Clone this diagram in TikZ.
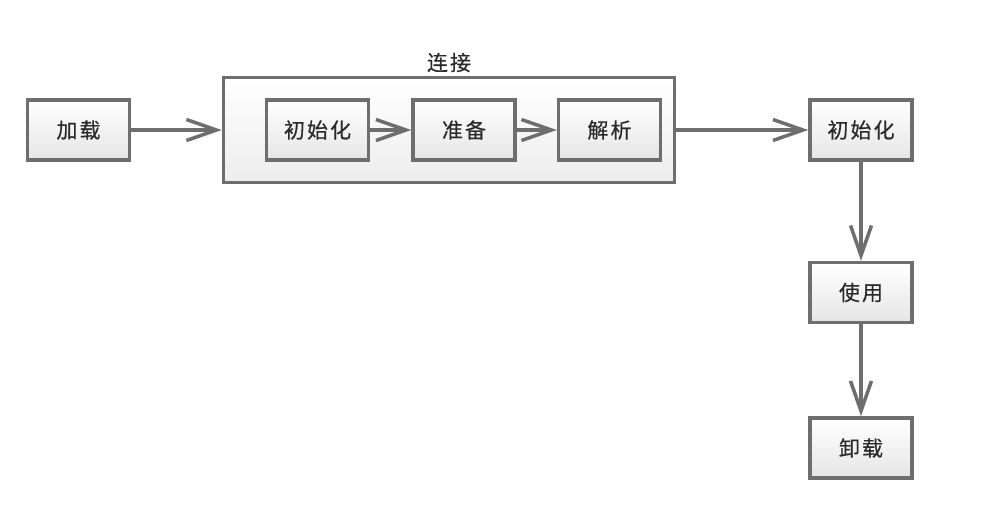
\documentclass[tikz,border=0pt]{standalone}
\usepackage{fontspec}
\newfontfamily\cjk[LetterSpace=10, FakeBold=0.4]{Noto Sans CJK SC}
\usetikzlibrary{positioning,arrows.meta,shadows}

\definecolor{edgegray}{HTML}{6E6E6E}
\definecolor{textgray}{HTML}{2A2A2A}

\begin{document}
\begin{tikzpicture}[%
    x=1pt, y=-1pt,               % pixel-like units, y grows downwards
    node distance=40pt and 40pt, % spacing between boxes
    font=\cjk\fontsize{21}{24}\selectfont,
    ]
% -------------------------------------------------
% Box and connector styles
\tikzset{
  base/.style={draw=edgegray, line width=3.5pt, rectangle,
    top color=white, bottom color=black!10, text=textgray,
    drop shadow={opacity=0.2, shadow xshift=1.5pt, shadow yshift=-1.5pt}},
  stage/.style={base, minimum width=102pt, minimum height=60pt},
  group/.style={base, top color=white, bottom color=black!7,
    minimum width=451pt, minimum height=105pt},
  flow/.style={-{Straight Barb[length=30pt, width=21pt, line width=3.5pt]},
    draw=edgegray, line width=3.5pt},
}
\useasboundingbox (0,0) rectangle (984,512);
% -------------------------------------------------
% Outer group first, then the stages
\node [group] (conn) at (449,130) {};
\node [above=0pt of conn, text=textgray] (connlbl) {连接};

\node [stage] (load) at (78.5,130) {加载};
\node [stage] (init) at (317.5,130) {初始化};
\node [stage, right=41pt of init] (prep) {准备};
\node [stage, right=40pt of prep] (parse) {解析};

\node [stage, right=132pt of conn.east, anchor=west] (initr) {初始化};
\node [stage, below=99pt of initr] (use) {使用};
\node [stage, below=92pt of use] (unload) {卸载};

% -------------------------------------------------
% Connectors
\draw [flow] (load) -- (conn);
\draw [flow] (init) -- (prep);
\draw [flow] (prep) -- (parse);
\draw [flow] (conn.east) -- (initr);
\draw [flow] (initr) -- (use);
\draw [flow] (use) -- (unload);
% -------------------------------------------------
\end{tikzpicture}
\end{document}
